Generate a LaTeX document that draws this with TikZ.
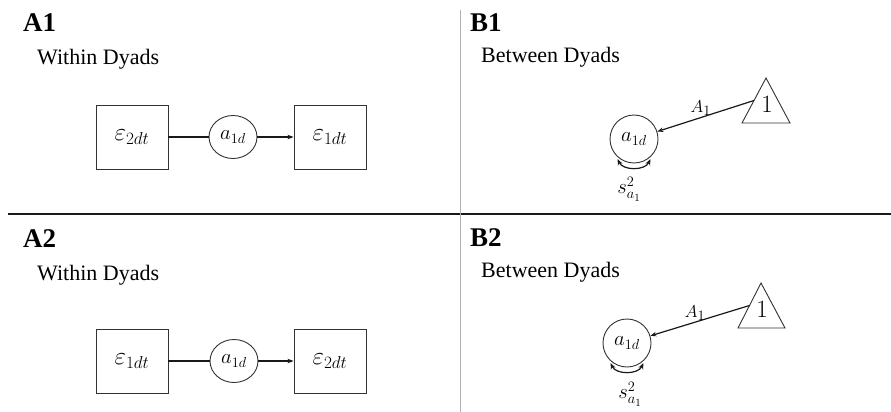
\documentclass[tikz,border=0pt]{standalone}
\usepackage{fontspec}
\setmainfont{Liberation Serif}
\usetikzlibrary{arrows.meta,shapes.geometric}
\begin{document}
\begin{tikzpicture}[x=1pt,y=-1pt,
  panel/.style={font=\fontsize{27}{30}\selectfont\bfseries, anchor=base west, inner sep=0pt},
  subttl/.style={font=\fontsize{22}{26}\selectfont, anchor=base west, inner sep=0pt},
  obsbox/.style={draw=black!80, line width=0.9pt, minimum width=72pt, minimum height=64pt, inner sep=0pt, font=\fontsize{25}{28}\selectfont},
  latA/.style={draw=black!80, line width=0.9pt, ellipse, minimum width=48pt, minimum height=43pt, inner sep=0pt, font=\fontsize{20}{22}\selectfont},
  latB/.style={draw=black!80, line width=0.9pt, circle, minimum size=48pt, inner sep=0pt, font=\fontsize{20}{22}\selectfont},
  conn/.style={line width=1.2pt, draw=black!90},
  tip/.style={-{Stealth[length=6pt,width=4.5pt]}},
  dtip/.style={{Stealth[length=6pt,width=5pt]}-{Stealth[length=6pt,width=5pt]}},
  tri/.style={draw=black!80, line width=0.9pt, line join=miter},
  one/.style={font=\fontsize{27}{30}\selectfont, inner sep=0pt},
  lbl/.style={font=\fontsize{19}{22}\selectfont, inner sep=1pt},
  varlbl/.style={font=\fontsize{21}{24}\selectfont, inner sep=0pt}
]
\path[fill=white, use as bounding box] (0,0) rectangle (891,412);

% separators
\draw[line width=2.5pt, black!90] (8,214) -- (891,214);
\draw[line width=1pt, black!30] (460,10) -- (460,412);

% titles
\node[panel] (tA1) at (23,32) {A1};
\node[subttl] (sA1) at (37,65) {Within Dyads};
\node[panel] (tB1) at (470,32) {B1};
\node[subttl] (sB1) at (481,63) {Between Dyads};
\node[panel] (tA2) at (23,247) {A2};
\node[subttl] (sA2) at (37,280) {Within Dyads};
\node[panel] (tB2) at (470,246) {B2};
\node[subttl] (sB2) at (481,277) {Between Dyads};

% A1
\node[obsbox] (e2a) at (132,137) {$\varepsilon_{2dt}$};
\node[latA] (aA1) at (233,137) {$a_{1d}$};
\node[obsbox] (e1a) at (330,137) {$\varepsilon_{1dt}$};
\draw[conn] (e2a) -- (aA1);
\draw[conn,tip] (aA1) -- (e1a);

% A2
\node[obsbox] (e1b) at (132,361) {$\varepsilon_{1dt}$};
\node[latA] (aA2) at (234,361) {$a_{1d}$};
\node[obsbox] (e2b) at (330,361) {$\varepsilon_{2dt}$};
\draw[conn] (e1b) -- (aA2);
\draw[conn,tip] (aA2) -- (e2b);

% B1
\node[latB] (aB1) at (634,139) {$a_{1d}$};
\coordinate (t1a) at (766,78);
\coordinate (t1b) at (742,123);
\coordinate (t1c) at (790,123);
\coordinate (t1e) at (754,100.5);
\draw[tri] (t1a) -- (t1b) -- (t1c) -- cycle;
\node[one] (oneB1) at (767,104) {$1$};
\draw[conn,tip] (t1e) -- (aB1) node[lbl, pos=0.55, above] (A1lbl) {$A_1$};
\draw[conn,dtip] ([yshift=-2pt]aB1.-132) to[bend right=65] ([yshift=-2pt]aB1.-48);
\node[varlbl] (sB1var) at (629,189) {$s^2_{a_1}$};

% B2
\node[latB] (aB2) at (627,343) {$a_{1d}$};
\coordinate (t2a) at (761,283);
\coordinate (t2b) at (738,328);
\coordinate (t2c) at (785,328);
\coordinate (t2e) at (749.5,305.5);
\draw[tri] (t2a) -- (t2b) -- (t2c) -- cycle;
\node[one] (oneB2) at (762,309) {$1$};
\draw[conn,tip] (t2e) -- (aB2) node[lbl, pos=0.55, above] (A2lbl) {$A_1$};
\draw[conn,dtip] ([yshift=-2pt]aB2.-132) to[bend right=65] ([yshift=-2pt]aB2.-48);
\node[varlbl] (sB2var) at (630,394) {$s^2_{a_1}$};
\end{tikzpicture}
\end{document}
